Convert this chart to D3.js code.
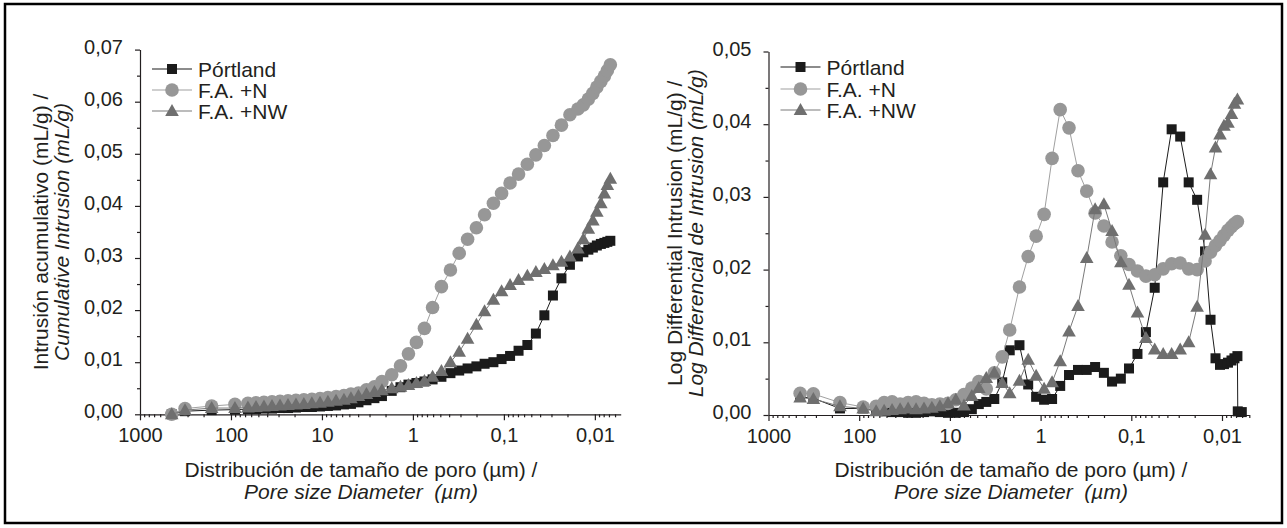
<!DOCTYPE html>
<html>
<head>
<meta charset="utf-8">
<script src="https://cdn.jsdelivr.net/npm/d3@7"></script>
<style>
  body { margin: 0; background: #fff; }
  svg { display: block; }
  text { font-family: "Liberation Sans", Arial, sans-serif; fill: #231f20; }
</style>
</head>
<body>
<svg id="chart" width="1287" height="528"></svg>
<script>
// pore diameters (µm), same intrusion steps for every sample
const diameters = [448, 320, 163, 90.4, 65.1, 53.1, 43.4, 35.4, 28.9, 23.6,
  19.3, 15.8, 12.9, 10.5, 8.6, 7.0, 5.73, 4.80, 3.97, 3.24,
  2.65, 2.19, 1.71, 1.37, 1.12, 0.915, 0.747, 0.608, 0.486, 0.387,
  0.310, 0.2506, 0.2005, 0.163, 0.1304, 0.106, 0.0855, 0.0690, 0.0552, 0.0445,
  0.0359, 0.0289, 0.0233, 0.0188, 0.01537, 0.01338, 0.01179, 0.01052, 0.00951, 0.00859,
  0.00786, 0.00729, 0.00676];

// cumulative intrusion (mL/g)
const cumPortland = [0, 0.0006, 0.0008, 0.0009, 0.0010, 0.0010, 0.0011, 0.0011, 0.0012, 0.0012,
  0.0013, 0.0014, 0.0014, 0.0015, 0.0016, 0.0017, 0.0019, 0.0020, 0.0023, 0.0027,
  0.0031, 0.0035, 0.0045, 0.0052, 0.0057, 0.0060, 0.0063, 0.0067, 0.0072, 0.0079,
  0.0084, 0.0088, 0.0092, 0.0097, 0.0100, 0.0106, 0.0112, 0.0122, 0.0133, 0.0155,
  0.0190, 0.0228, 0.0261, 0.0287, 0.0303, 0.0311, 0.0316, 0.0320, 0.0324, 0.0327,
  0.0329, 0.0331, 0.0333];
const cumFAN = [0, 0.0011, 0.0016, 0.0019, 0.0021, 0.0022, 0.0023, 0.0024, 0.0025, 0.0026,
  0.0027, 0.0028, 0.0029, 0.0030, 0.0032, 0.0034, 0.0036, 0.0039, 0.0041, 0.0047,
  0.0053, 0.0063, 0.0076, 0.0093, 0.0116, 0.0138, 0.0165, 0.0205, 0.0245, 0.0277,
  0.0309, 0.0336, 0.0358, 0.0383, 0.0405, 0.0424, 0.0444, 0.0461, 0.0480, 0.0498,
  0.0516, 0.0535, 0.0555, 0.0575, 0.0586, 0.0594, 0.0605, 0.0616, 0.0628, 0.0639,
  0.0649, 0.0660, 0.0671];
const cumFANW = [0, 0.0008, 0.0012, 0.0012, 0.0013, 0.0014, 0.0015, 0.0016, 0.0017, 0.0018,
  0.0019, 0.0020, 0.0021, 0.0022, 0.0024, 0.0026, 0.0028, 0.0031, 0.0035, 0.0039,
  0.0043, 0.0046, 0.0050, 0.0053, 0.0056, 0.0060, 0.0064, 0.0072, 0.0083, 0.0100,
  0.0120, 0.0145, 0.0172, 0.0198, 0.0220, 0.0236, 0.0248, 0.0258, 0.0266, 0.0273,
  0.0279, 0.0286, 0.0293, 0.0303, 0.0318, 0.0336, 0.0356, 0.0372, 0.0389, 0.0405,
  0.0424, 0.0440, 0.0452];

// log differential intrusion (mL/g); Pórtland has two extra last steps
const difPortlandD = diameters.concat([0.0067, 0.00605]);
const difPortland = [0.0025, 0.0023, 0.0009, 0.0009, 0.0006, 0.0005, 0.0004, 0.0004, 0.0003, 0.0003,
  0.0004, 0.0005, 0.0004, 0.0003, 0.0003, 0.0004, 0.0008, 0.0015, 0.0018, 0.0022,
  0.0045, 0.0089, 0.0096, 0.0042, 0.0025, 0.0021, 0.0022, 0.0040, 0.0055, 0.0062,
  0.0062, 0.0066, 0.0058, 0.0046, 0.0050, 0.0064, 0.0084, 0.0114, 0.0175, 0.0320,
  0.0393, 0.0383, 0.0320, 0.0296, 0.0225, 0.0131, 0.0078, 0.0069, 0.0070, 0.0072,
  0.0075, 0.0078, 0.0081, 0.0005, 0.0004];
const difFAN = [0.0030, 0.0029, 0.0017, 0.0011, 0.0012, 0.0017, 0.0018, 0.0015, 0.0017, 0.0018,
  0.0016, 0.0014, 0.0015, 0.0016, 0.0021, 0.0028, 0.0037, 0.0046, 0.0036, 0.0058,
  0.0080, 0.0117, 0.0176, 0.0218, 0.0246, 0.0276, 0.0353, 0.0420, 0.0395, 0.0336,
  0.0308, 0.0278, 0.0260, 0.0238, 0.0219, 0.0207, 0.0198, 0.0191, 0.0193, 0.0201,
  0.0208, 0.0209, 0.0201, 0.0200, 0.0212, 0.0224, 0.0233, 0.0240, 0.0247, 0.0254,
  0.0259, 0.0263, 0.0266];
const difFANW = [0.0024, 0.0022, 0.0012, 0.0009, 0.0005, 0.0006, 0.0007, 0.0008, 0.0009, 0.0008,
  0.0009, 0.0010, 0.0012, 0.0016, 0.0021, 0.0013, 0.0026, 0.0037, 0.0051, 0.0058,
  0.0044, 0.0030, 0.0047, 0.0076, 0.0054, 0.0036, 0.0045, 0.0074, 0.0115, 0.0150,
  0.0216, 0.0283, 0.0290, 0.0253, 0.0210, 0.0179, 0.0141, 0.0106, 0.0090, 0.0084,
  0.0084, 0.0090, 0.0100, 0.0149, 0.0248, 0.0331, 0.0368, 0.0386, 0.0398, 0.0402,
  0.0414, 0.0428, 0.0434];

const seriesNames = ["Pórtland", "F.A. +N", "F.A. +NW"];
const xTickValues = [1000, 100, 10, 1, 0.1, 0.01];
const xTickLabels = ["1000", "100", "10", "1", "0,1", "0,01"];
const cumTicks = [0, 0.01, 0.02, 0.03, 0.04, 0.05, 0.06, 0.07];
const difTicks = [0, 0.01, 0.02, 0.03, 0.04, 0.05];

const svg = d3.select("#chart");

// outer frame
svg.append("rect")
  .attr("x", 5).attr("y", 4)
  .attr("width", 1277).attr("height", 519)
  .attr("fill", "none")
  .attr("stroke", "#000")
  .attr("stroke-width", 2.5);

const styles = {
  "Pórtland": { shape: "square", fill: "#1b1b1b", line: "#1b1b1b" },
  "F.A. +N":  { shape: "circle", fill: "#979797", line: "#a0a0a0" },
  "F.A. +NW": { shape: "triangle", fill: "#6f6f6f", line: "#7a7a7a" }
};

function marker(g, shape, cx, cy, fill) {
  if (shape === "square") {
    g.append("rect").attr("x", cx - 5).attr("y", cy - 5)
      .attr("width", 10).attr("height", 10).attr("fill", fill);
  } else if (shape === "circle") {
    g.append("circle").attr("cx", cx).attr("cy", cy).attr("r", 6.8).attr("fill", fill);
  } else {
    g.append("path")
      .attr("d", `M${cx},${cy - 7}L${cx + 6.8},${cy + 5}L${cx - 6.8},${cy + 5}Z`)
      .attr("fill", fill);
  }
}

function minorLogTicks(domain) {
  const lo = Math.min(...domain), hi = Math.max(...domain);
  const out = [];
  for (let e = Math.floor(Math.log10(lo)); e < Math.ceil(Math.log10(hi)); e++) {
    for (let k = 2; k <= 9; k++) {
      const v = k * Math.pow(10, e);
      if (v >= lo && v <= hi) out.push(v);
    }
  }
  return out;
}

function drawPanel(cfg) {
  const { x, y, yTicks, series, legendY, yTitle, xTitleX, yTitleX } = cfg;
  const g = svg.append("g");
  const [x0] = x.range();
  const y0 = y.range()[0];
  const yMid = (y.range()[0] + y.range()[1]) / 2;

  // x axis: decades + minor log ticks
  const xAxis = g.append("g")
    .attr("transform", `translate(0,${y0})`)
    .call(d3.axisBottom(x).tickValues(xTickValues).tickSize(6).tickSizeOuter(0)
      .tickFormat((d, i) => xTickLabels[i]));
  xAxis.selectAll("text")
    .attr("y", 27.5).attr("dy", 0)
    .attr("font-size", 20).attr("font-family", null);

  g.append("g")
    .attr("transform", `translate(0,${y0})`)
    .call(d3.axisBottom(x).tickValues(minorLogTicks(x.domain())).tickSize(3)
      .tickSizeOuter(0).tickFormat(""))
    .select(".domain").remove();

  // y axis
  const yMinor = d3.pairs(yTicks).map(([a, b]) => (a + b) / 2);
  const yAxis = g.append("g")
    .attr("transform", `translate(${x0},0)`)
    .call(d3.axisLeft(y).tickValues(yTicks).tickSize(5).tickSizeOuter(0)
      .tickPadding(12).tickFormat(d => d3.format(".2f")(d).replace(".", ",")));
  yAxis.selectAll("text")
    .attr("dy", 3.5)
    .attr("font-size", 20).attr("font-family", null);

  g.append("g")
    .attr("transform", `translate(${x0},0)`)
    .call(d3.axisLeft(y).tickValues(yMinor).tickSize(3).tickSizeOuter(0).tickFormat(""))
    .select(".domain").remove();

  g.selectAll(".domain, .tick line")
    .attr("stroke", "#231f20")
    .attr("stroke-width", 1.2);

  // series: lines then markers
  const line = d3.line().x(d => x(d[0])).y(d => y(d[1]));
  series.forEach(s => {
    const st = styles[s.name];
    const pts = d3.zip(s.d, s.v);
    g.append("path")
      .attr("d", line(pts))
      .attr("fill", "none")
      .attr("stroke", st.line)
      .attr("stroke-width", 1);
    const mg = g.append("g");
    pts.forEach(p => marker(mg, st.shape, x(p[0]), y(p[1]), st.fill));
  });

  // legend
  const lg = g.append("g").attr("transform", `translate(${x0},0)`);
  seriesNames.forEach((name, i) => {
    const st = styles[name];
    const ly = legendY[i];
    lg.append("line")
      .attr("x1", 12).attr("x2", 52).attr("y1", ly).attr("y2", ly)
      .attr("stroke", st.line).attr("stroke-width", 1.2);
    marker(lg, st.shape, 32, ly, st.fill);
    lg.append("text")
      .attr("x", 58).attr("y", ly + 7.5)
      .attr("font-size", 21)
      .text(name);
  });

  // y title (two rotated lines)
  const yt = g.append("text")
    .attr("transform", `translate(${yTitleX},${yMid}) rotate(-90)`)
    .attr("text-anchor", "middle")
    .attr("font-size", 21);
  yt.append("tspan").attr("x", 0).attr("y", 0).text(yTitle[0]);
  yt.append("tspan").attr("x", 0).attr("y", 21).attr("font-style", "italic").text(yTitle[1]);

  // x title
  g.append("text")
    .attr("x", xTitleX).attr("y", 477)
    .attr("text-anchor", "middle")
    .attr("font-size", 21)
    .text("Distribución de tamaño de poro (µm) /");
  g.append("text")
    .attr("x", xTitleX).attr("y", 499)
    .attr("text-anchor", "middle")
    .attr("font-size", 21)
    .attr("font-style", "italic")
    .style("white-space", "pre")
    .text("Pore size Diameter  (µm)");
}

// left: cumulative intrusion
drawPanel({
  x: d3.scaleLog().domain([1000, 0.0052]).range([140, 620.7]),
  y: d3.scaleLinear().domain([0, 0.07]).range([414.3, 49.6]),
  yTicks: cumTicks,
  series: [
    { name: "Pórtland", d: diameters, v: cumPortland },
    { name: "F.A. +N", d: diameters, v: cumFAN },
    { name: "F.A. +NW", d: diameters, v: cumFANW }
  ],
  legendY: [69, 90, 111],
  yTitle: ["Intrusión acumulativo (mL/g) /", "Cumulative Intrusion (mL/g)"],
  yTitleX: 48,
  xTitleX: 361
});

// right: log differential intrusion
drawPanel({
  x: d3.scaleLog().domain([1000, 0.005]).range([768.5, 1249.3]),
  y: d3.scaleLinear().domain([0, 0.05]).range([415, 51.5]),
  yTicks: difTicks,
  series: [
    { name: "Pórtland", d: difPortlandD, v: difPortland },
    { name: "F.A. +N", d: diameters, v: difFAN },
    { name: "F.A. +NW", d: diameters, v: difFANW }
  ],
  legendY: [67, 89, 110],
  yTitle: ["Log Differential Intrusion (mL/g) /", "Log Differencial de Intrusion (mL/g)"],
  yTitleX: 682,
  xTitleX: 1011
});
</script>
</body>
</html>
